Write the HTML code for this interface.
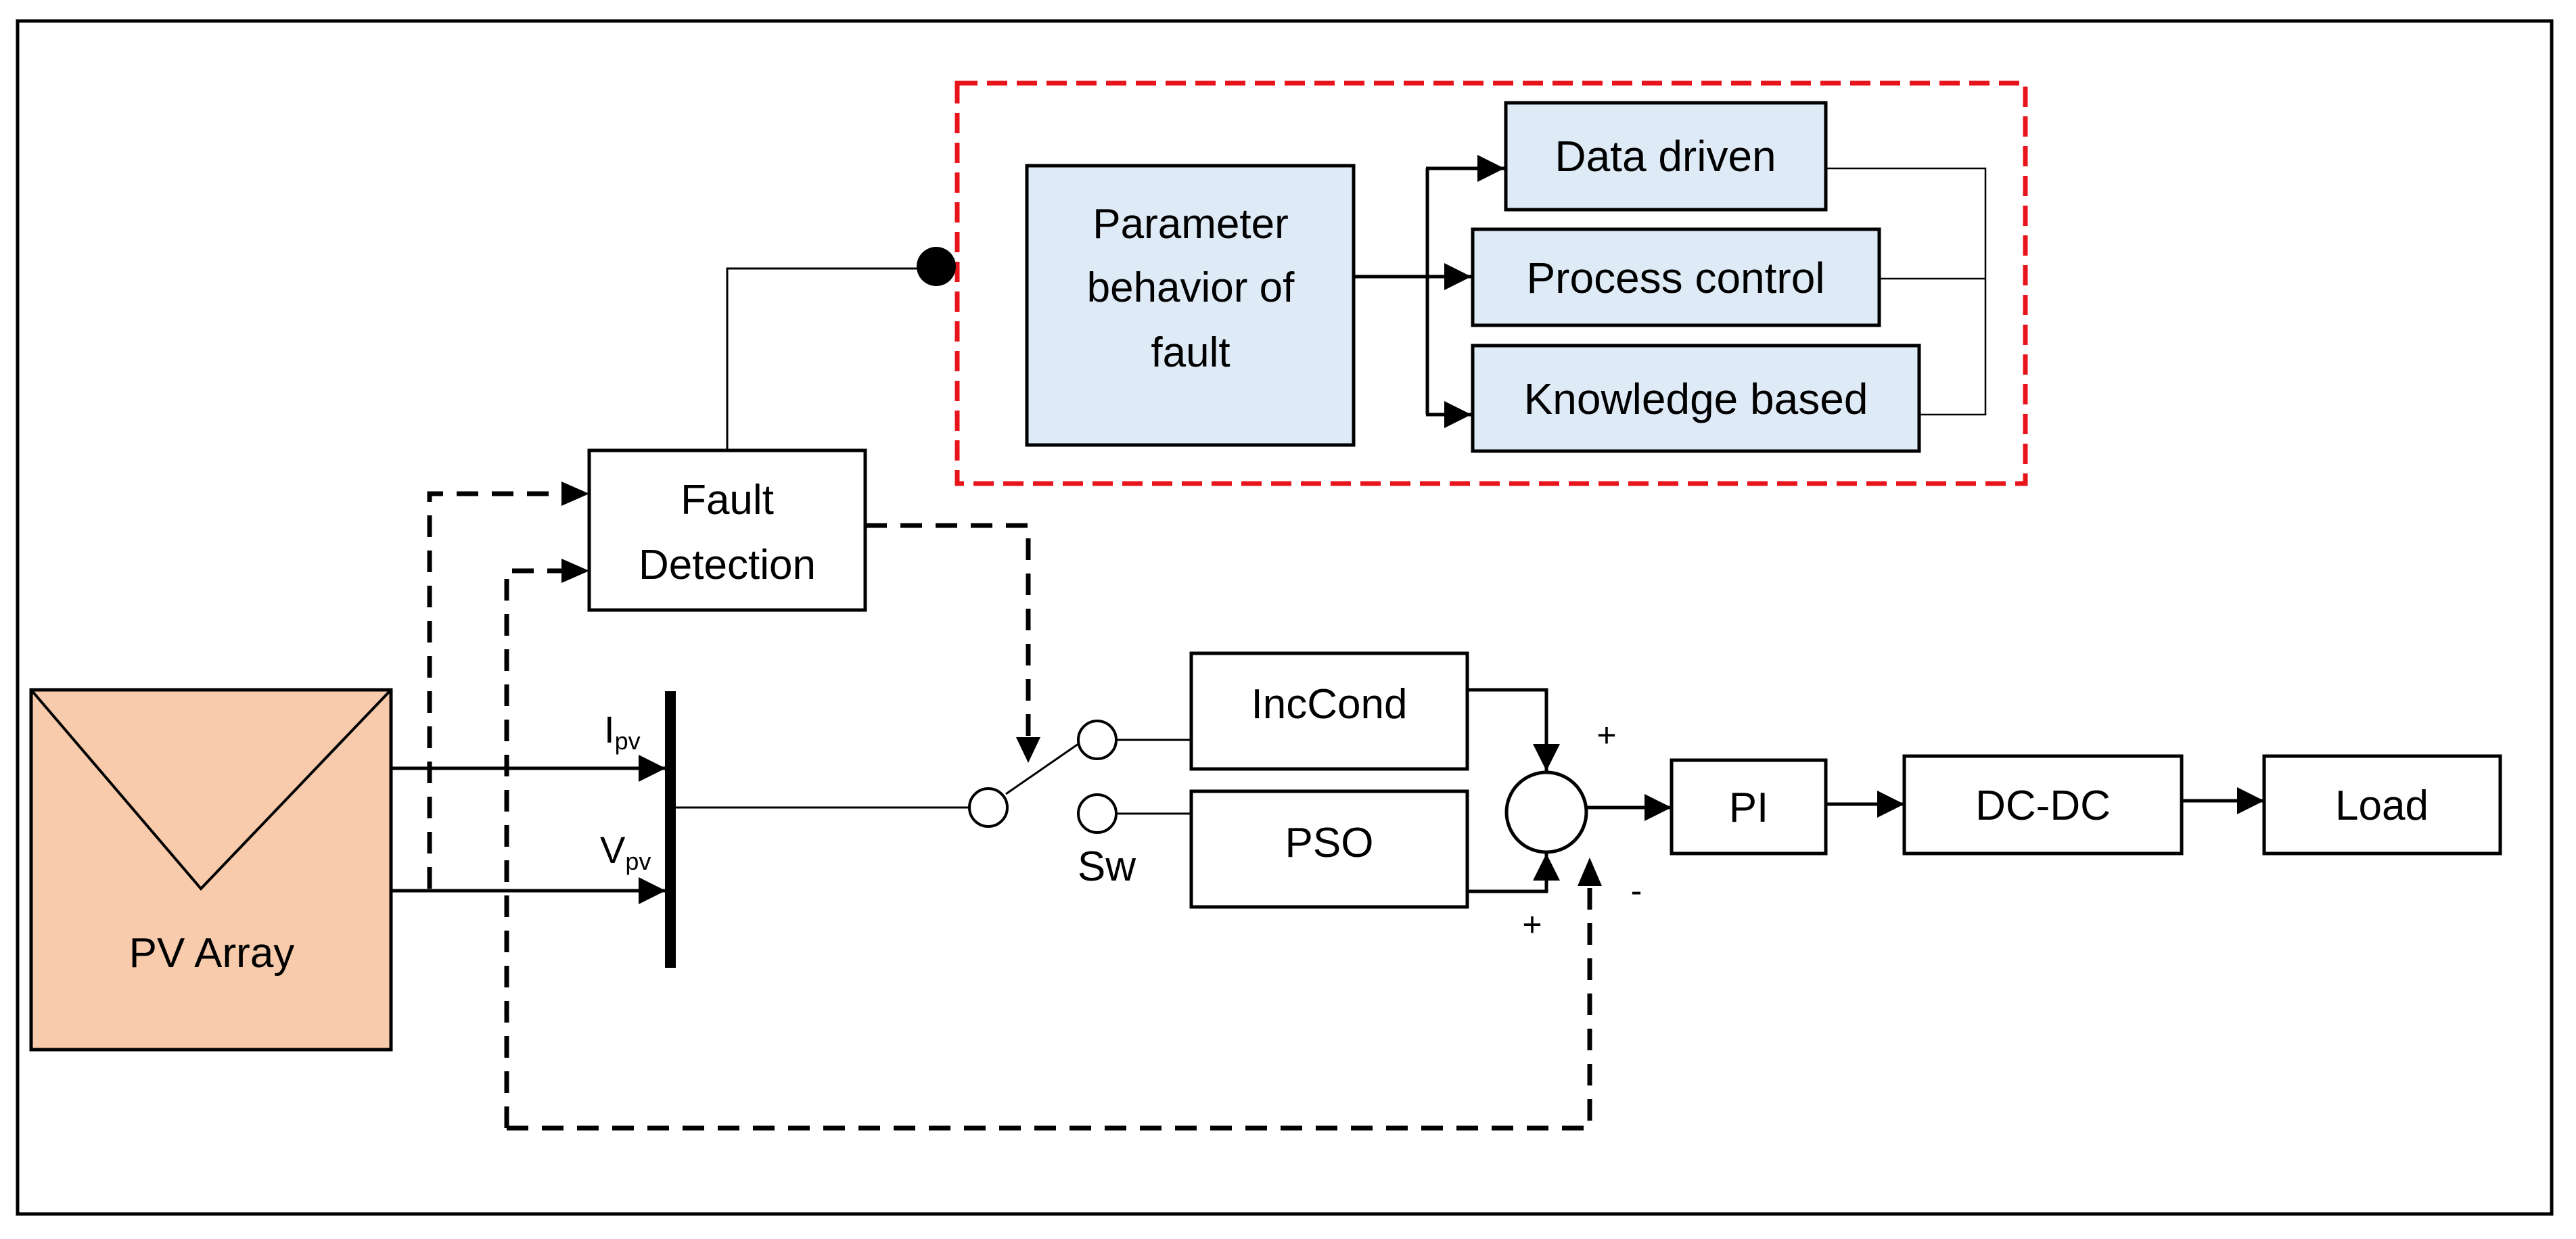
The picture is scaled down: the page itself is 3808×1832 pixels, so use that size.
<!DOCTYPE html>
<html><head><meta charset="utf-8"><style>html,body{margin:0;padding:0;background:#fff}svg{display:block}</style></head><body>
<svg width="3808" height="1832" viewBox="0 0 3808 1832" xmlns="http://www.w3.org/2000/svg" font-family="Liberation Sans, sans-serif">
<defs>
<marker id="b" viewBox="0 0 10 10" refX="10" refY="5" markerWidth="40" markerHeight="40" markerUnits="userSpaceOnUse" orient="auto"><path d="M0,0 L10,5 L0,10 z" fill="#000"/></marker>
</defs>
<rect width="3808" height="1832" fill="#fff"/>
<rect x="26" y="31" width="3746" height="1764" fill="none" stroke="#000" stroke-width="5"/>
<rect x="1415" y="123" width="1579" height="592" fill="none" stroke="#e8141c" stroke-width="7" stroke-dasharray="30,14"/>
<polyline points="1075,664 1075,397 1384,397" fill="none" stroke="#000" stroke-width="3"/>
<circle cx="1384" cy="394" r="29" fill="#000"/>
<rect x="1518" y="245" width="483" height="413" fill="#deeaf6" stroke="#000" stroke-width="5"/>
<g font-size="62" text-anchor="middle" fill="#000">
<text x="1760" y="352">Parameter</text>
<text x="1760" y="446">behavior of</text>
<text x="1760" y="542">fault</text>
</g>
<rect x="2226" y="152" width="473" height="158" fill="#deeaf6" stroke="#000" stroke-width="5"/>
<rect x="2177" y="339" width="601" height="142" fill="#deeaf6" stroke="#000" stroke-width="5"/>
<rect x="2177" y="511" width="660" height="156" fill="#deeaf6" stroke="#000" stroke-width="5"/>
<g font-size="64" text-anchor="middle" fill="#000">
<text x="2462" y="253">Data driven</text>
<text x="2477" y="433">Process control</text>
<text x="2507" y="612">Knowledge based</text>
</g>
<g stroke="#000" stroke-width="5" fill="none">
<line x1="2001" y1="409" x2="2175" y2="409" marker-end="url(#b)"/>
<polyline points="2110,249 2110,613"/>
<line x1="2108" y1="249" x2="2224" y2="249" marker-end="url(#b)"/>
<line x1="2108" y1="613" x2="2175" y2="613" marker-end="url(#b)"/>
</g>
<g stroke="#000" stroke-width="2.5" fill="none">
<polyline points="2699,249 2935,249 2935,613 2837,613"/>
<line x1="2778" y1="412" x2="2935" y2="412"/>
</g>
<rect x="871" y="666" width="408" height="236" fill="#fff" stroke="#000" stroke-width="5"/>
<g font-size="62" text-anchor="middle"><text x="1075" y="760">Fault</text><text x="1075" y="856">Detection</text></g>
<rect x="46" y="1020" width="532" height="532" fill="#f8cbad" stroke="#000" stroke-width="5"/>
<polyline points="46,1020 297,1314 578,1020" fill="none" stroke="#000" stroke-width="4"/>
<text x="313" y="1430" font-size="62" text-anchor="middle">PV Array</text>
<g stroke="#000" stroke-width="5">
<line x1="578" y1="1136" x2="984" y2="1136" marker-end="url(#b)"/>
<line x1="578" y1="1317" x2="984" y2="1317" marker-end="url(#b)"/>
</g>
<rect x="983" y="1022" width="16" height="409" fill="#000"/>
<text x="893" y="1098" font-size="56">I<tspan font-size="36" dy="10">pv</tspan></text>
<text x="887" y="1276" font-size="56">V<tspan font-size="36" dy="10">pv</tspan></text>
<g stroke="#000" stroke-width="7" fill="none" stroke-dasharray="32,20">
<polyline points="635,1314 635,730 830,730"/>
<polyline points="749,1668 749,844 830,844"/>
<polyline points="749,1668 2350,1668 2350,1310"/>
<polyline points="1279,777 1520,777 1520,1090"/>
</g>
<path d="M830,712 L871,730 L830,748 z"/>
<path d="M830,826 L871,844 L830,862 z"/>
<path d="M1502,1090 L1520,1128 L1538,1090 z"/>
<path d="M2332,1310 L2350,1268 L2368,1310 z"/>
<line x1="999" y1="1194" x2="1431" y2="1194" stroke="#000" stroke-width="3"/>
<line x1="1487" y1="1174" x2="1594" y2="1100" stroke="#000" stroke-width="3"/>
<circle cx="1461" cy="1194" r="28" fill="#fff" stroke="#000" stroke-width="4"/>
<circle cx="1622" cy="1094" r="28" fill="#fff" stroke="#000" stroke-width="4"/>
<circle cx="1622" cy="1203" r="28" fill="#fff" stroke="#000" stroke-width="4"/>
<text x="1636" y="1302" font-size="62" text-anchor="middle">Sw</text>
<line x1="1650" y1="1094" x2="1761" y2="1094" stroke="#000" stroke-width="3"/>
<line x1="1650" y1="1203" x2="1761" y2="1203" stroke="#000" stroke-width="3"/>
<rect x="1761" y="966" width="408" height="171" fill="#fff" stroke="#000" stroke-width="5"/>
<rect x="1761" y="1170" width="408" height="171" fill="#fff" stroke="#000" stroke-width="5"/>
<text x="1965" y="1062" font-size="62" text-anchor="middle">IncCond</text>
<text x="1965" y="1267" font-size="62" text-anchor="middle">PSO</text>
<circle cx="2286" cy="1201" r="59" fill="#fff" stroke="#000" stroke-width="5"/>
<g stroke="#000" stroke-width="5" fill="none">
<polyline points="2169,1020 2286,1020 2286,1140" marker-end="url(#b)"/>
<polyline points="2169,1318 2286,1318 2286,1262" marker-end="url(#b)"/>
<line x1="2346" y1="1194" x2="2471" y2="1194" marker-end="url(#b)"/>
<line x1="2699" y1="1189" x2="2815" y2="1189" marker-end="url(#b)"/>
<line x1="3225" y1="1184" x2="3347" y2="1184" marker-end="url(#b)"/>
</g>
<g font-size="50" text-anchor="middle"><text x="2375" y="1104">+</text><text x="2265" y="1384">+</text><text x="2419" y="1334">-</text></g>
<rect x="2471" y="1124" width="228" height="138" fill="#fff" stroke="#000" stroke-width="5"/>
<rect x="2815" y="1118" width="410" height="144" fill="#fff" stroke="#000" stroke-width="5"/>
<rect x="3347" y="1118" width="349" height="144" fill="#fff" stroke="#000" stroke-width="5"/>
<g font-size="62" text-anchor="middle"><text x="2585" y="1215">PI</text><text x="3020" y="1212">DC-DC</text><text x="3521" y="1212">Load</text></g>
</svg>
</body></html>
